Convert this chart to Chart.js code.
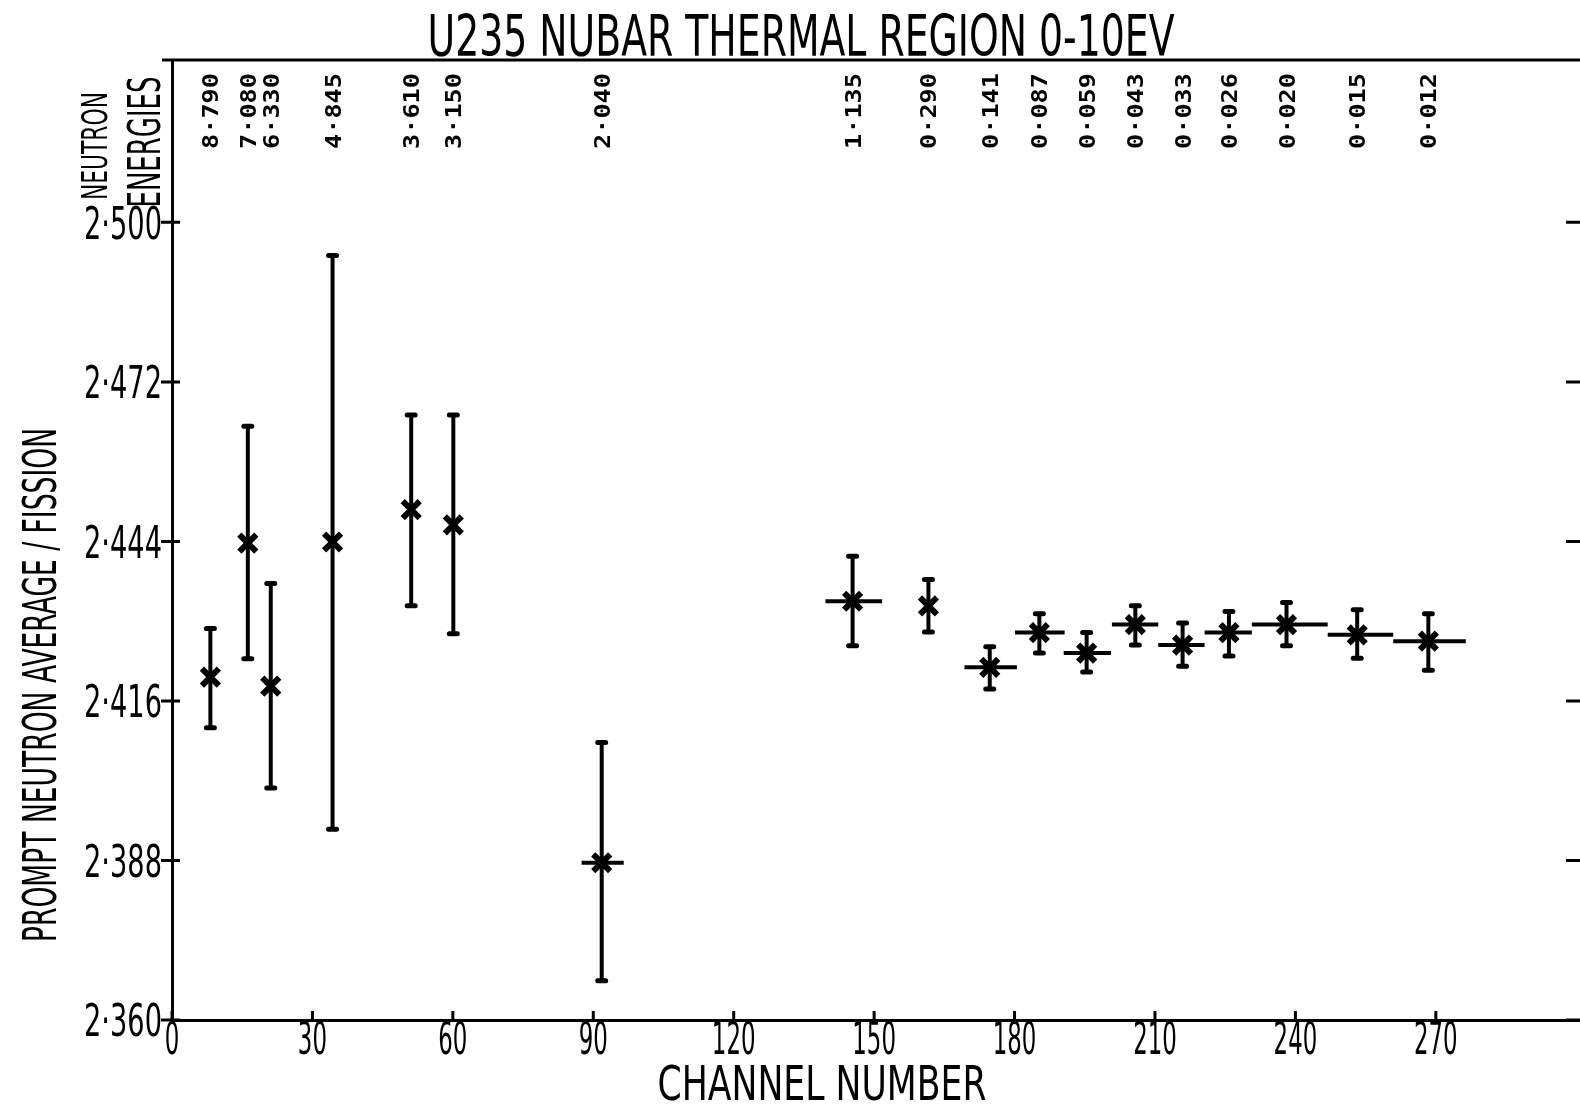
<!DOCTYPE html>
<html>
<head>
<meta charset="utf-8">
<title>U235 NUBAR</title>
<script src="https://cdn.jsdelivr.net/npm/chart.js@4.4.0/dist/chart.umd.min.js"></script>
<style>
  html, body { margin: 0; padding: 0; background: #fff; }
  canvas { display: block; }
</style>
</head>
<body>
<canvas id="nubar" width="1580" height="1106"></canvas>
<script>
// channel number of each point
const channels = [8.2, 16.2, 21.1, 34.3, 51.1, 60.1, 91.8, 145.4, 161.6, 174.7, 185.3, 195.4, 205.8, 215.9, 225.8, 238.1, 253.2, 268.4];
// prompt neutrons per fission
const nubar   = [2.4202, 2.4437, 2.4186, 2.4439, 2.4496, 2.4469, 2.3876, 2.4335, 2.4327, 2.4219, 2.4280, 2.4244, 2.4294, 2.4258, 2.4280, 2.4294, 2.4276, 2.4265];
const errHigh = [2.4287, 2.4642, 2.4366, 2.4942, 2.4662, 2.4662, 2.4087, 2.4414, 2.4373, 2.4255, 2.4313, 2.4280, 2.4327, 2.4297, 2.4317, 2.4333, 2.4320, 2.4313];
const errLow  = [2.4113, 2.4234, 2.4007, 2.3935, 2.4327, 2.4278, 2.3669, 2.4257, 2.4281, 2.4181, 2.4244, 2.4211, 2.4258, 2.4221, 2.4239, 2.4257, 2.4235, 2.4214];
// channel width (horizontal bars), null = none drawn
const binLow  = [null, null, null, null, null, null, 87.5, 139.6, null, 169.3, 180.1, 190.5, 200.8, 210.7, 220.6, 230.7, 246.9, 260.9];
const binHigh = [null, null, null, null, null, null, 96.5, 151.7, null, 180.5, 190.7, 200.6, 210.7, 220.6, 230.7, 246.9, 260.9, 276.4];
// neutron energy (eV) written above each point
const energies = ['8·790', '7·080', '6·330', '4·845', '3·610', '3·150', '2·040', '1·135', '0·290', '0·141', '0·087', '0·059', '0·043', '0·033', '0·026', '0·020', '0·015', '0·012'];

const xTicks = [0, 30, 60, 90, 120, 150, 180, 210, 240, 270];
const yTicks = [2.360, 2.388, 2.416, 2.444, 2.472, 2.500];
const yTickLabels = ['2·360', '2·388', '2·416', '2·444', '2·472', '2·500'];

const FONT = '"DejaVu Sans", sans-serif';
const MONO = '"DejaVu Sans Mono", monospace';

// squeezed text, like the plotter lettering
function txt(ctx, s, x, y, o) {
  ctx.save();
  ctx.translate(x, y);
  if (o.rot) ctx.rotate(o.rot);
  ctx.font = (o.weight || 'normal') + ' ' + o.size + 'px ' + (o.family || FONT);
  let sx = o.sx || 1;
  if (o.width) sx = o.width / ctx.measureText(s).width;
  ctx.scale(sx, 1);
  ctx.textAlign = o.align || 'center';
  ctx.textBaseline = 'alphabetic';
  ctx.fillStyle = '#000';
  ctx.fillText(s, 0, o.size * 0.365);
  ctx.restore();
}

const errorBars = {
  id: 'errorBars',
  beforeDatasetsDraw(chart) {
    const ctx = chart.ctx, xs = chart.scales.x, ys = chart.scales.y;
    ctx.save();
    ctx.strokeStyle = '#000';
    channels.forEach((c, i) => {
      const px = xs.getPixelForValue(c);
      const top = ys.getPixelForValue(errHigh[i]);
      const bot = ys.getPixelForValue(errLow[i]);
      ctx.lineCap = 'butt';
      ctx.lineWidth = 4;
      ctx.beginPath();
      ctx.moveTo(px, top); ctx.lineTo(px, bot);
      ctx.stroke();
      ctx.lineCap = 'round';
      ctx.lineWidth = 5;
      ctx.beginPath();
      ctx.moveTo(px - 4, top); ctx.lineTo(px + 4, top);
      ctx.moveTo(px - 4, bot); ctx.lineTo(px + 4, bot);
      ctx.stroke();
      if (binLow[i] !== null) {
        const py = ys.getPixelForValue(nubar[i]);
        ctx.lineCap = 'butt';
        ctx.lineWidth = 4;
        ctx.beginPath();
        ctx.moveTo(xs.getPixelForValue(binLow[i]), py);
        ctx.lineTo(xs.getPixelForValue(binHigh[i]), py);
        ctx.stroke();
      }
    });
    ctx.restore();
  },
  afterDraw(chart) {
    const ctx = chart.ctx, xs = chart.scales.x, ys = chart.scales.y, a = chart.chartArea;
    ctx.save();
    ctx.strokeStyle = '#000';
    ctx.lineWidth = 3;
    // top frame line
    ctx.beginPath();
    ctx.moveTo(a.left - 10, a.top); ctx.lineTo(a.right, a.top);
    ctx.stroke();
    // y ticks (crossing the left axis) + right axis ticks
    yTicks.forEach((v, i) => {
      const py = ys.getPixelForValue(v);
      ctx.beginPath();
      ctx.moveTo(a.left - 11, py); ctx.lineTo(a.left + 8, py);
      ctx.moveTo(a.right - 14, py); ctx.lineTo(a.right, py);
      ctx.stroke();
      txt(ctx, yTickLabels[i], a.left - 10, py, { size: 45, width: 78, align: 'right' });
    });
    // x ticks
    xTicks.forEach(v => {
      const px = xs.getPixelForValue(v);
      ctx.beginPath();
      ctx.moveTo(px, a.bottom - 9); ctx.lineTo(px, a.bottom);
      ctx.stroke();
      txt(ctx, String(v), px, a.bottom + 18, { size: 44, sx: 0.52 });
    });
    // energies along the top
    channels.forEach((c, i) => {
      txt(ctx, energies[i], xs.getPixelForValue(c), 111, { size: 22, width: 76, rot: -Math.PI / 2, family: MONO, weight: 'bold' });
    });
    txt(ctx, 'NEUTRON', 94, 146, { size: 36, width: 108, rot: -Math.PI / 2 });
    txt(ctx, 'ENERGIES', 144, 142, { size: 44, width: 131, rot: -Math.PI / 2 });
    // titles
    txt(ctx, 'U235 NUBAR THERMAL REGION 0-10EV', 801, 35, { size: 57, width: 747 });
    txt(ctx, 'CHANNEL NUMBER', 822, 1082, { size: 48, width: 329 });
    txt(ctx, 'PROMPT NEUTRON AVERAGE / FISSION', 39, 685, { size: 47, width: 514, rot: -Math.PI / 2 });
    ctx.restore();
  }
};

new Chart(document.getElementById('nubar'), {
  type: 'scatter',
  data: {
    datasets: [{
      data: channels.map((c, i) => ({ x: c, y: nubar[i] })),
      pointStyle: 'crossRot',
      radius: 12,
      borderWidth: 6,
      borderColor: '#000',
      backgroundColor: '#000'
    }]
  },
  options: {
    responsive: false,
    animation: false,
    devicePixelRatio: 1,
    layout: { autoPadding: false, padding: { top: 60, left: 0, right: 0, bottom: 0 } },
    plugins: { legend: { display: false }, tooltip: { enabled: false }, title: { display: false } },
    scales: {
      x: {
        type: 'linear', min: 0, max: 300.8,
        grid: { display: false },
        border: { display: true, color: '#000', width: 3 },
        ticks: { display: false },
        afterFit(s) { s.height = 86; }
      },
      y: {
        min: 2.360, max: 2.5285,
        grid: { display: false },
        border: { display: true, color: '#000', width: 3 },
        ticks: { display: false },
        afterFit(s) { s.width = 172; }
      }
    }
  },
  plugins: [errorBars]
});
</script>
</body>
</html>
